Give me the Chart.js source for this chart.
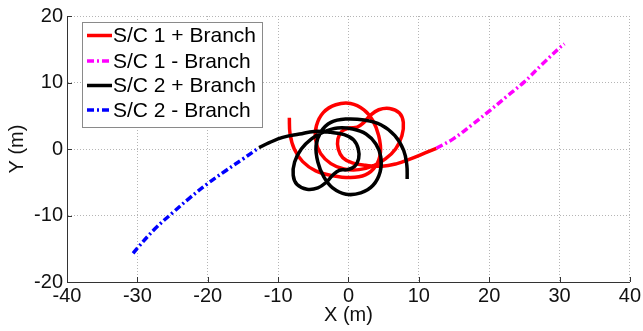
<!DOCTYPE html>
<html><head><meta charset="utf-8">
<script src="https://cdn.jsdelivr.net/npm/chart.js@4.4.0/dist/chart.umd.min.js"></script>
<style>html,body{margin:0;padding:0;background:#fff}#wrap{width:643px;height:331px}</style>
</head><body><div id="wrap"><canvas id="c" width="643" height="331"></canvas></div>
<script>
const seriesLabels = ['S/C 1 + Branch', 'S/C 1 - Branch', 'S/C 2 + Branch', 'S/C 2 - Branch'];
const xTicks = [-40, -30, -20, -10, 0, 10, 20, 30, 40];
const yTicks = [-20, -10, 0, 10, 20];

// S/C 1 + Branch (red)
const sc1PlusX = [-8.4,-8.3,-7.7,-6.5,-4.65,-2.3,0.3,2.4,3.85,4.55,4.3,3.45,2.2,0.3,-1.8,-3.55,-4.55,-4.65,-3.95,-2.5,-0.65,1.5,3.6,5.25,6.7,7.6,7.8,7.25,5.85,4.3,3.05,2.2,1.25,0.05,-0.95,-1.5,-1.45,-0.8,0.55,2.45,4.8,6.9,8.55,10.9,12.5];
const sc1PlusY = [4.7,2.3,0.0,-1.9,-3.3,-4.0,-4.3,-3.9,-2.6,-0.5,2.0,4.3,5.9,6.85,6.65,5.5,3.5,1.3,-0.7,-2.2,-3.0,-3.1,-2.5,-1.5,0.0,2.0,4.0,5.4,6.1,5.9,5.0,4.0,3.3,3.15,2.65,1.5,0.0,-1.3,-2.1,-2.45,-2.6,-2.2,-1.6,-0.6,0.1];
// S/C 1 - Branch (magenta)
const sc1MinusX = [12.5,15,17.5,20,22.5,25,27.5,30,30.7];
const sc1MinusY = [0.1,1.6,3.6,5.7,7.9,10.1,12.7,15.2,15.8];
// S/C 2 + Branch (black)
const sc2PlusX = [-12.7,-11.25,-9.35,-6.95,-4.85,-2.5,-0.6,0.75,1.4,1.45,0.9,-0.1,-1.3,-2.25,-3.1,-4.35,-5.9,-7.3,-7.85,-7.65,-6.7,-5.3,-3.65,-1.55,0.6,2.5,3.9,4.6,4.5,3.5,1.75,-0.35,-2.25,-3.5,-4.35,-4.6,-3.9,-2.5,-0.35,2.25,4.6,6.6,7.85,8.3,8.35];
const sc2PlusY = [0.2,0.95,1.75,2.25,2.65,2.5,2.15,1.35,0.0,-1.45,-2.6,-3.1,-3.2,-3.95,-4.95,-5.85,-6.05,-5.35,-3.95,-1.95,0.0,1.5,2.5,3.15,3.0,2.25,0.75,-1.2,-3.45,-5.45,-6.6,-6.8,-5.85,-4.2,-1.95,0.5,2.6,4.0,4.5,4.35,3.65,2.0,-0.2,-2.45,-4.5];
// S/C 2 - Branch (blue)
const sc2MinusX = [-30.6,-30,-27.5,-25,-22.5,-20,-17.5,-15,-12.7];
const sc2MinusY = [-15.7,-14.9,-12.0,-9.6,-7.3,-5.2,-3.3,-1.5,0.2];

function pts(xs, ys) { return xs.map((x, i) => ({x: x, y: ys[i]})); }

const FONT = 'Arial, "Liberation Sans", sans-serif';

const inwardTicks = {
  id: 'inwardTicks',
  afterDraw(chart) {
    const ctx = chart.ctx, xs = chart.scales.x, ys = chart.scales.y, a = chart.chartArea;
    ctx.save();
    ctx.strokeStyle = '#333';
    ctx.lineWidth = 1;
    ctx.beginPath();
    xTicks.forEach(v => { const p = Math.round(xs.getPixelForValue(v)) + 0.5; ctx.moveTo(p, a.bottom); ctx.lineTo(p, a.bottom - 5); });
    yTicks.forEach(v => { const p = Math.round(ys.getPixelForValue(v)) + 0.5; ctx.moveTo(a.left, p); ctx.lineTo(a.left + 5, p); });
    ctx.stroke();
    ctx.restore();
  }
};

const boxLegend = {
  id: 'boxLegend',
  afterDraw(chart) {
    const ctx = chart.ctx;
    const L = 82, T = 22, R = 262, B = 127;
    ctx.save();
    ctx.fillStyle = '#fff';
    ctx.fillRect(L, T, R - L, B - T);
    ctx.strokeStyle = '#8a8a8a';
    ctx.lineWidth = 1;
    ctx.strokeRect(L + 0.5, T + 0.5, R - L, B - T);
    const rows = [35.5, 61, 85.5, 110];
    chart.data.datasets.forEach((ds, i) => {
      const y = rows[i];
      ctx.strokeStyle = ds.borderColor;
      ctx.lineWidth = 3.5;
      ctx.setLineDash(ds.borderDash || []);
      ctx.beginPath();
      ctx.moveTo(87, y); ctx.lineTo(112, y);
      ctx.stroke();
      ctx.setLineDash([]);
      ctx.fillStyle = '#000';
      ctx.font = '21px ' + FONT;
      ctx.textBaseline = 'middle';
      ctx.textAlign = 'left';
      ctx.fillText(ds.label, 113, y + 1);
    });
    ctx.restore();
  }
};

const common = { showLine: true, pointRadius: 0, pointHoverRadius: 0, borderWidth: 3.5, tension: 0.4, fill: false };

new Chart(document.getElementById('c'), {
  type: 'scatter',
  data: {
    datasets: [
      Object.assign({}, common, { label: seriesLabels[0], data: pts(sc1PlusX, sc1PlusY), borderColor: '#ff0000', order: 3 }),
      Object.assign({}, common, { label: seriesLabels[1], data: pts(sc1MinusX, sc1MinusY), borderColor: '#ff00ff', borderDash: [7, 3, 2, 3], order: 2 }),
      Object.assign({}, common, { label: seriesLabels[2], data: pts(sc2PlusX, sc2PlusY), borderColor: '#000000', order: 0 }),
      Object.assign({}, common, { label: seriesLabels[3], data: pts(sc2MinusX, sc2MinusY), borderColor: '#0000ff', borderDash: [7, 3, 2, 3], order: 1 })
    ]
  },
  options: {
    responsive: false,
    animation: false,
    events: [],
    layout: { padding: { top: 15, right: 11, left: 0, bottom: 0 } },
    plugins: { legend: { display: false }, tooltip: { enabled: false } },
    scales: {
      x: {
        type: 'linear', min: -40, max: 40,
        afterBuildTicks: s => { s.ticks = xTicks.map(v => ({value: v})); },
        afterFit: s => { s.height = 49; },
        grid: { color: '#b5b5b5', lineWidth: 1, drawTicks: false },
        border: { display: true, color: '#333', width: 1, dash: [1, 2] },
        ticks: { color: '#111', font: { size: 20, family: FONT }, padding: 2, maxRotation: 0, autoSkip: false },
        title: { display: true, text: 'X (m)', color: '#111', font: { size: 20, family: FONT }, padding: { top: 0, bottom: 4 } }
      },
      y: {
        type: 'linear', min: -20, max: 20,
        afterBuildTicks: s => { s.ticks = yTicks.map(v => ({value: v})); },
        afterFit: s => { s.width = 67; },
        grid: { color: '#b5b5b5', lineWidth: 1, drawTicks: false },
        border: { display: true, color: '#333', width: 1, dash: [1, 2] },
        ticks: { color: '#111', font: { size: 20, family: FONT }, padding: 4, autoSkip: false },
        title: { display: true, text: 'Y (m)', color: '#111', font: { size: 20, family: FONT }, padding: { top: 5, bottom: 0 } }
      }
    }
  },
  plugins: [inwardTicks, boxLegend]
});
</script>
</body></html>
